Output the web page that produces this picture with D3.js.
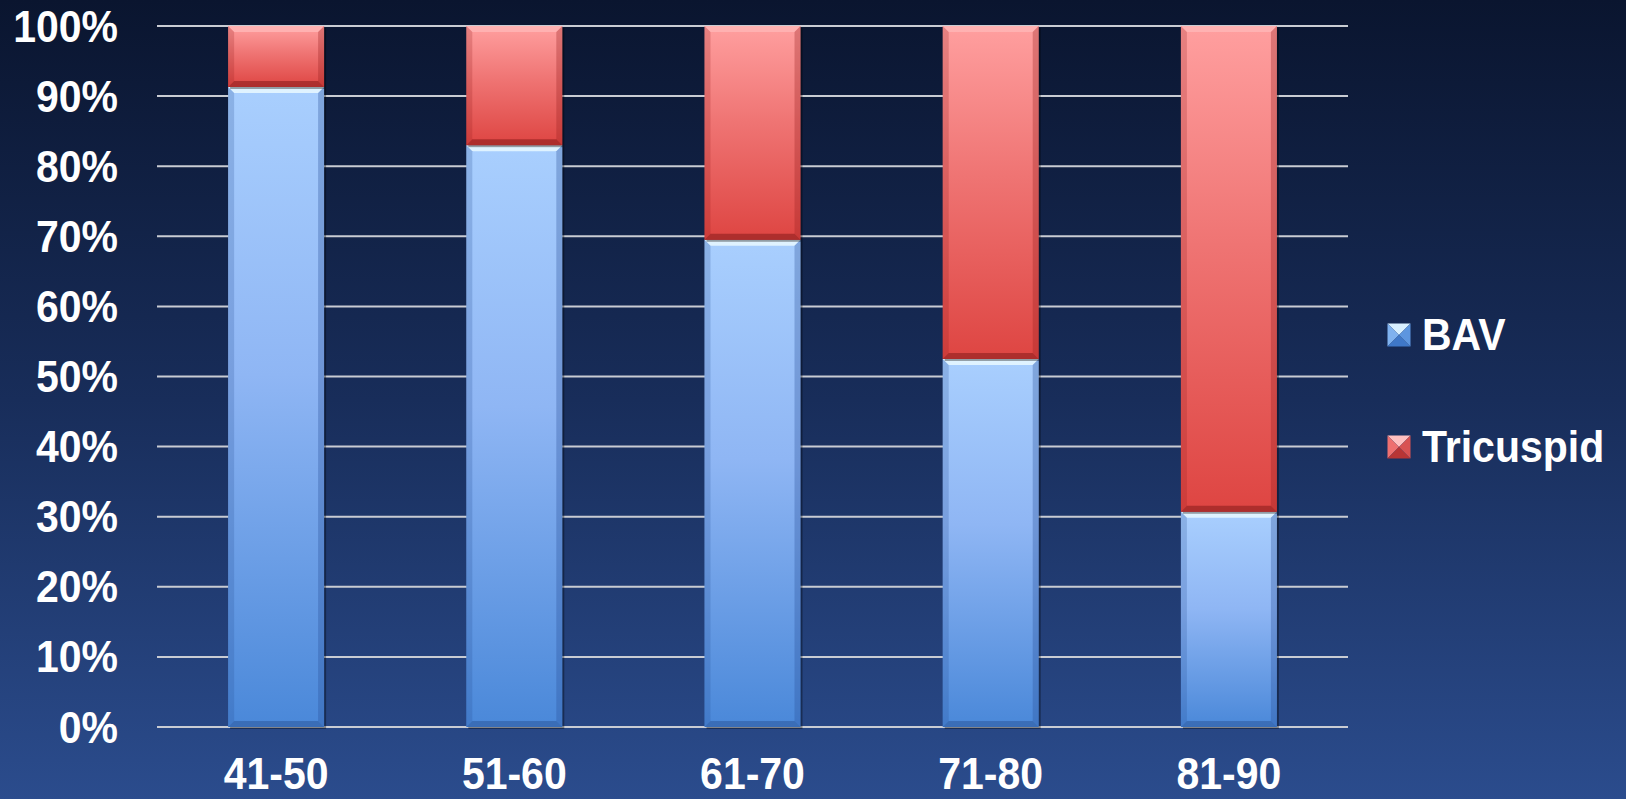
<!DOCTYPE html>
<html><head><meta charset="utf-8">
<script src="https://cdn.jsdelivr.net/npm/d3@7"></script>
<style>html,body{margin:0;padding:0;overflow:hidden;background:#14254a}svg{display:block}</style>
</head><body>
<svg id="chart" width="1626" height="799"></svg>
<script>
const categories = ["41-50","51-60","61-70","71-80","81-90"];
const bavValues = [91.3, 83.0, 69.5, 52.5, 30.7];
const tricuspidValues = [8.7, 17.0, 30.5, 47.5, 69.3];
const seriesNames = ["BAV","Tricuspid"];
const yTicks = [0,10,20,30,40,50,60,70,80,90,100];

const W = 1626, H = 799;
const svg = d3.select("#chart");
const defs = svg.append("defs");

const bg = defs.append("linearGradient").attr("id","bg").attr("x1",0).attr("y1",0).attr("x2",0).attr("y2",1);
bg.append("stop").attr("offset","0%").attr("stop-color","#0a152f");
bg.append("stop").attr("offset","50%").attr("stop-color","#182d5a");
bg.append("stop").attr("offset","100%").attr("stop-color","#2b4c8d");
svg.append("rect").attr("width",W).attr("height",H).attr("fill","url(#bg)");

function grad(id, top, mid, bot){
  const g = defs.append("linearGradient").attr("id",id).attr("x1",0).attr("y1",0).attr("x2",0).attr("y2",1);
  g.append("stop").attr("offset","0%").attr("stop-color",top);
  g.append("stop").attr("offset","45%").attr("stop-color",mid);
  g.append("stop").attr("offset","100%").attr("stop-color",bot);
}
grad("gBAV","#a9cffe","#8fb6f4","#4a88d9");
grad("gTri","#ff9f9f","#ef7473","#de4542");

const x = d3.scaleBand().domain(categories).range([157,1348]).paddingInner(0.597).paddingOuter(0.2985);
const y = d3.scaleLinear().domain([0,100]).range([727,26]);
const font = "'Liberation Sans', Arial, sans-serif";
const stretch = 1.1;

// gridlines
svg.append("g").selectAll("line").data(yTicks).join("line")
  .attr("x1",157).attr("x2",1348).attr("y1",d=>y(d)).attr("y2",d=>y(d))
  .attr("stroke","#c9ccd3").attr("stroke-width",2);

// y labels
const yAxis = d3.axisLeft(y).tickValues(yTicks).tickFormat(d=>d+"%").tickSize(0).tickPadding(0);
const ya = svg.append("g").attr("transform","translate(118,0)").call(yAxis);
ya.select(".domain").remove();
ya.selectAll("text").attr("fill","#fff").attr("font-family",font).attr("font-weight","bold").attr("font-size",41)
  .attr("x",0).attr("y",0).attr("dy",null).attr("transform",`scale(1,${stretch}) translate(0,${15/stretch})`);

// x labels
const xAxis = d3.axisBottom(x).tickSize(0).tickPadding(0);
const xa = svg.append("g").attr("transform","translate(0,0)").call(xAxis);
xa.select(".domain").remove();
xa.selectAll("text").attr("fill","#fff").attr("font-family",font).attr("font-weight","bold").attr("font-size",41)
  .attr("y",789/stretch).attr("dy",null).attr("transform",`scale(1,${stretch})`);

// stacked data
const rows = categories.map((c,i)=>({cat:c, BAV:bavValues[i], Tricuspid:tricuspidValues[i]}));
const stack = d3.stack().keys(seriesNames)(rows);
const fills = {BAV:"url(#gBAV)", Tricuspid:"url(#gTri)"};
const hi = {BAV:"#e4f6ff", Tricuspid:"#ffb4b4"};
const side = {BAV:"rgba(40,80,150,0.45)", Tricuspid:"rgba(150,30,30,0.45)"};
const bottomEdge = {BAV:"rgba(30,60,120,0.35)", Tricuspid:"rgba(140,30,30,0.6)"};
const bev = 6;

stack.forEach(layer=>{
  const key = layer.key;
  const g = svg.append("g");
  layer.forEach(d=>{
    const x0 = x(d.data.cat), w = x.bandwidth();
    const yt = y(d[1]), yb = y(d[0]), h = yb-yt;
    g.append("rect").attr("x",x0+2).attr("y",yt+2).attr("width",w).attr("height",h).attr("fill","rgba(0,0,0,0.35)");
    g.append("rect").attr("x",x0).attr("y",yt).attr("width",w).attr("height",h).attr("fill",fills[key]);
    g.append("path").attr("d",`M${x0},${yt}L${x0+w},${yt}L${x0+w-bev},${yt+bev}L${x0+bev},${yt+bev}Z`).attr("fill",hi[key]).attr("opacity",0.9);
    g.append("path").attr("d",`M${x0},${yt}L${x0+bev},${yt+bev}L${x0+bev},${yb-bev}L${x0},${yb}Z`).attr("fill",side[key]).attr("opacity",0.5);
    g.append("path").attr("d",`M${x0+w},${yt}L${x0+w-bev},${yt+bev}L${x0+w-bev},${yb-bev}L${x0+w},${yb}Z`).attr("fill",side[key]).attr("opacity",0.7);
    g.append("path").attr("d",`M${x0},${yb}L${x0+bev},${yb-bev}L${x0+w-bev},${yb-bev}L${x0+w},${yb}Z`).attr("fill",bottomEdge[key]);
  });
});

// legend
const legend = svg.append("g");
const legY = [335, 447];
const legCol = {BAV:["#d8f0ff","#7fb2ef","#3f78c8","#5d96df"], Tricuspid:["#ffc0c0","#ee7070","#b83535","#d85252"]};
seriesNames.forEach((k,i)=>{
  const cx = 1399, cy = legY[i], s = 11.5;
  const c = legCol[k];
  const g = legend.append("g");
  g.append("path").attr("d",`M${cx-s},${cy-s}L${cx+s},${cy-s}L${cx},${cy}Z`).attr("fill",c[0]);
  g.append("path").attr("d",`M${cx-s},${cy-s}L${cx},${cy}L${cx-s},${cy+s}Z`).attr("fill",c[1]);
  g.append("path").attr("d",`M${cx-s},${cy+s}L${cx},${cy}L${cx+s},${cy+s}Z`).attr("fill",c[2]);
  g.append("path").attr("d",`M${cx+s},${cy-s}L${cx},${cy}L${cx+s},${cy+s}Z`).attr("fill",c[3]);
  legend.append("text").attr("x",1422).attr("y",(cy+15)/stretch).attr("transform",`scale(1,${stretch})`).text(k)
    .attr("fill","#fff").attr("font-family",font).attr("font-weight","bold").attr("font-size",41);
});
</script>
</body></html>
